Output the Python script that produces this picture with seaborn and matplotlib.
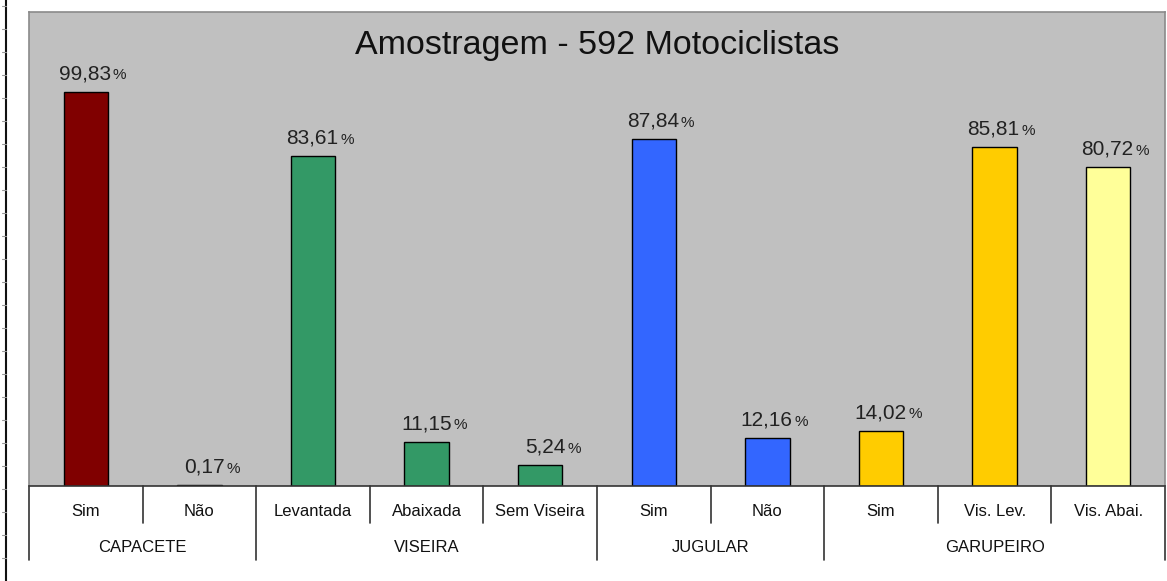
import matplotlib
matplotlib.use("Agg")
import matplotlib.pyplot as plt
from matplotlib.lines import Line2D
import matplotlib.transforms as mtransforms
import numpy as np
import pandas as pd
import seaborn as sns

# ---- data ----
title = "Amostragem - 592 Motociclistas"
sub_labels = ["Sim", "Não", "Levantada", "Abaixada", "Sem Viseira",
              "Sim", "Não", "Sim", "Vis. Lev.", "Vis. Abai."]
group_labels = ["CAPACETE", "VISEIRA", "JUGULAR", "GARUPEIRO"]
group_sizes = [2, 3, 2, 3]
values = [99.83, 0.17, 83.61, 11.15, 5.24, 87.84, 12.16, 14.02, 85.81, 80.72]
value_text = ["99,83", "0,17", "83,61", "11,15", "5,24",
              "87,84", "12,16", "14,02", "85,81", "80,72"]
bar_colors = ["#800000", "#800000", "#339966", "#339966", "#339966",
              "#3366FF", "#3366FF", "#FFCC00", "#FFCC00", "#FFFF99"]

sns.set_theme(style="white")
plt.rcParams["font.family"] = ["Liberation Sans", "DejaVu Sans"]

W, H = 1167, 581
fig = plt.figure(figsize=(W / 100, H / 100), dpi=100)
x0, x1, ytop, ybot = 29, 1165, 12, 486
ax = fig.add_axes([x0 / W, (H - ybot) / H, (x1 - x0) / W, (ybot - ytop) / H])

df = pd.DataFrame({"pos": list(range(len(values))), "val": values, "col": bar_colors})
sns.barplot(data=df, x="pos", y="val", hue="pos", palette=bar_colors, legend=False,
            width=0.39, edgecolor="black", linewidth=1.0, saturation=1, ax=ax)

ax.set_facecolor("#C0C0C0")
ax.set_xlim(-0.5, len(values) - 0.5)
ax.set_ylim(0, 120.1)
ax.set_xticks([])
ax.set_yticks([])
ax.set_xlabel("")
ax.set_ylabel("")
for s in ["top", "left", "right"]:
    ax.spines[s].set_color("#8a8a8a")
    ax.spines[s].set_linewidth(1.2)
ax.spines["bottom"].set_color("#333333")
ax.spines["bottom"].set_linewidth(1.2)

ax.text(0.5, 0.93, title, transform=ax.transAxes, ha="center", va="center",
        fontsize=24.5, color="#111111")

# value labels
for i, (v, t) in enumerate(zip(values, value_text)):
    ax.annotate(t, (i, v), xytext=(18, 9), textcoords="offset points",
                ha="right", va="baseline", fontsize=15, color="#222222")
    ax.annotate("%", (i, v), xytext=(19.5, 9), textcoords="offset points",
                ha="left", va="baseline", fontsize=11, color="#222222")

# category table below axis
tr = mtransforms.blended_transform_factory(ax.transData, ax.transAxes)
ph = ybot - ytop
y_row1_end = -(523 - ybot) / ph
y_row2_end = -(560 - ybot) / ph
y_sub = -(512 - ybot) / ph
y_grp = -(548 - ybot) / ph

for i, lab in enumerate(sub_labels):
    ax.text(i, y_sub, lab, transform=tr, ha="center", va="center",
            fontsize=12, color="#111111", clip_on=False)

group_bounds = np.cumsum([0] + group_sizes)
for b in range(len(values) + 1):
    xb = b - 0.5
    yend = y_row2_end if b in group_bounds else y_row1_end
    ax.add_line(Line2D([xb, xb], [0, yend], transform=tr, color="#333333",
                       lw=1.2, clip_on=False))
for g, lab in enumerate(group_labels):
    xc = (group_bounds[g] + group_bounds[g + 1] - 1) / 2
    ax.text(xc, y_grp, lab, transform=tr, ha="center", va="center",
            fontsize=12, color="#111111", clip_on=False)

# left ruler decoration
fig.add_artist(Line2D([6 / W, 6 / W], [0, 1], transform=fig.transFigure,
                      color="#111111", lw=1.5))
for yy in np.arange(6, H, 23):
    fig.add_artist(Line2D([2 / W, 6 / W], [1 - yy / H, 1 - yy / H],
                          transform=fig.transFigure, color="#999999", lw=0.8))

fig.savefig("out.png", dpi=100)
